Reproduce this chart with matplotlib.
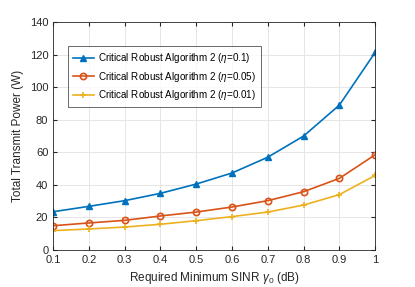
import matplotlib
matplotlib.use('Agg')
import matplotlib.pyplot as plt

plt.rcParams['font.family'] = ['Liberation Sans', 'DejaVu Sans']
plt.rcParams['mathtext.fontset'] = 'custom'
plt.rcParams['mathtext.it'] = 'Liberation Sans:italic'
plt.rcParams['mathtext.rm'] = 'Liberation Sans'

gamma0 = [0.1, 0.2, 0.3, 0.4, 0.5, 0.6, 0.7, 0.8, 0.9, 1.0]
eta_01 = [23.5, 26.8, 30.3, 34.8, 40.5, 47.3, 57.0, 70.0, 89.0, 121.4]
eta_005 = [14.9, 16.6, 18.2, 20.9, 23.3, 26.4, 30.3, 35.8, 44.0, 58.5]
eta_001 = [11.9, 12.9, 14.1, 15.8, 18.0, 20.5, 23.3, 27.6, 34.0, 45.8]
labels = ['Critical Robust Algorithm 2 ($\\eta$=0.1)',
          'Critical Robust Algorithm 2 ($\\eta$=0.05)',
          'Critical Robust Algorithm 2 ($\\eta$=0.01)']

fig = plt.figure(figsize=(4.15, 2.87), dpi=100)
ax = fig.add_axes([0.128, 0.129, 0.776, 0.794])

ax.plot(gamma0, eta_01, color='#0072BD', marker='^', markersize=4.5, lw=1.2, label=labels[0])
ax.plot(gamma0, eta_005, color='#D95319', marker='o', markersize=4.5, mfc='none', mew=1.2, lw=1.2, label=labels[1])
ax.plot(gamma0, eta_001, color='#EDB120', marker='+', markersize=4.5, mew=1.2, lw=1.2, label=labels[2])

ax.set_xlim(0.1, 1)
ax.set_ylim(0, 140)
ax.set_xticks(gamma0)
ax.set_xticklabels(['0.1', '0.2', '0.3', '0.4', '0.5', '0.6', '0.7', '0.8', '0.9', '1'])
ax.set_yticks(range(0, 141, 20))
ax.grid(True, color='#e6e6e6', lw=0.7)
ax.set_axisbelow(True)
ax.tick_params(direction='in', labelsize=8, colors='#262626', length=3, top=True, right=True)
for s in ax.spines.values():
    s.set_color('#262626')
    s.set_linewidth(0.6)

ax.set_xlabel('Required Minimum SINR $\\gamma_0$ (dB)', fontsize=8.5, color='#262626')
ax.set_ylabel('Total Transmit Power (W)', fontsize=8.5, color='#262626')

leg = ax.legend(loc='upper left', bbox_to_anchor=(0.03, 0.915), fontsize=7.1, frameon=True,
                fancybox=False, edgecolor='#262626', borderpad=0.5, handlelength=2.2,
                handletextpad=0.4, labelspacing=0.45)
leg.get_frame().set_linewidth(0.6)

fig.savefig('out.png', dpi=100)
